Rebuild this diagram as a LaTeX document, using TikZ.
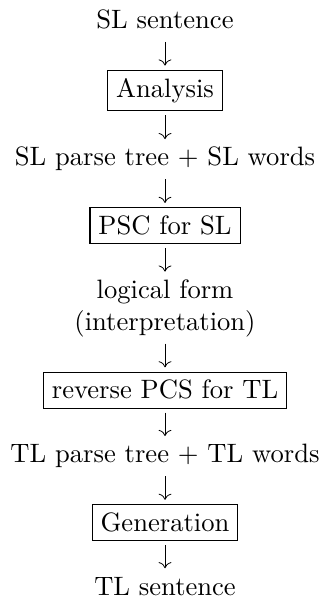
\documentclass[tikz,border=0pt]{standalone}
\usetikzlibrary{arrows.meta}
\begin{document}
\begin{tikzpicture}[
  txt/.style={inner sep=0pt, outer sep=0pt, text height=6.94pt, text depth=1.94pt, anchor=base},
  boxed/.style={draw, line width=0.4pt, inner sep=3.2pt, anchor=base},
  arr/.style={line width=0.35pt, -{Computer Modern Rightarrow[length=2.3pt, width=4.8pt, line width=0.3pt]}},
  fromtxt/.style={shorten <=3.12pt},
  totxt/.style={shorten >=3.12pt},
  frombox/.style={shorten <=1.5pt},
  tobox/.style={shorten >=1.56pt}
]
\useasboundingbox (0,0) rectangle (120.74pt,-224.94pt);
\def\cx{62.07pt}
\node[txt] (n1) at (\cx,-10.72pt) {SL sentence};
\node[boxed, text height=6.94pt, text depth=1.94pt] (n3) at (\cx,-36.56pt) {Analysis};
\node[txt] (n5) at (\cx,-62.40pt) {SL parse tree + SL words};
\node[boxed, text height=6.94pt, text depth=0.22pt] (n7) at (\cx,-88.24pt) {PSC for SL};
\node[txt] (n9) at (\cx,-112.24pt) {logical form};
\node[txt] (n10) at (\cx,-124.24pt) {(interpretation)};
\node[boxed, text height=6.94pt, text depth=0.22pt] (n12) at (\cx,-150.08pt) {reverse PCS for TL};
\node[txt] (n14) at (\cx,-174.08pt) {TL parse tree + TL words};
\node[boxed, text height=6.83pt, text depth=0.22pt] (n16) at (\cx,-199.81pt) {Generation};
\node[txt] (n18) at (\cx,-223.81pt) {TL sentence};
\draw[arr, fromtxt, tobox] (n1.south) -- (n3.north);
\draw[arr, frombox, totxt] (n3.south) -- (n5.north);
\draw[arr, fromtxt, tobox] (n5.south) -- (n7.north);
\draw[arr, frombox, totxt] (n7.south) -- (n9.north);
\draw[arr, fromtxt, tobox] (n10.south) -- (n12.north);
\draw[arr, frombox, totxt] (n12.south) -- (n14.north);
\draw[arr, fromtxt, tobox] (n14.south) -- (n16.north);
\draw[arr, frombox, totxt] (n16.south) -- (n18.north);
\end{tikzpicture}
\end{document}
